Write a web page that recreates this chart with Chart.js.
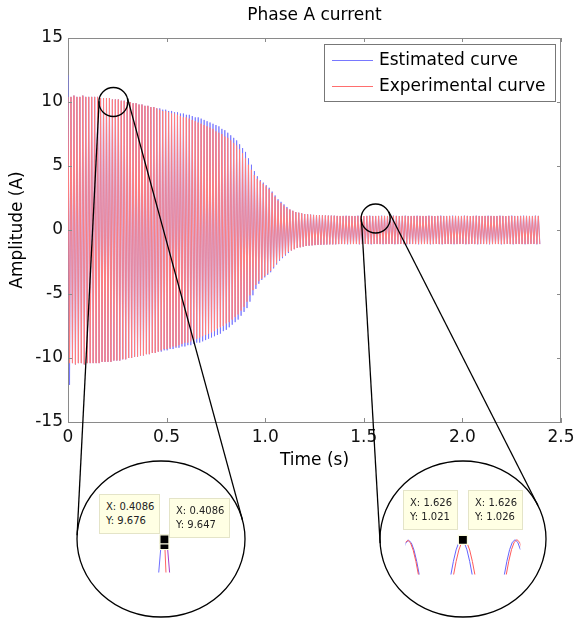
<!DOCTYPE html>
<html>
<head>
<meta charset="utf-8">
<title>Phase A current</title>
<script src="https://cdn.jsdelivr.net/npm/chart.js@4.4.1/dist/chart.umd.min.js"></script>
<style>
  body { margin: 0; background: #fff; }
  #wrap { position: relative; width: 576px; height: 621px; }
  #wrap canvas { position: absolute; }
  .tip { position: absolute; background: #ffffe4; border: 1px solid #e4e4c8; font: 10px "DejaVu Sans", sans-serif; color: #222; line-height: 14px; padding: 5px 5px 5px 6px; white-space: nowrap; }
</style>
</head>
<body>
<div id="wrap">
  <canvas id="mainChart" width="576" height="621" style="left:0;top:0"></canvas>
  <canvas id="zoomLeft" width="120" height="78" style="left:104px;top:502px"></canvas>
  <canvas id="zoomRight" width="130" height="57" style="left:398px;top:525px"></canvas>
  <div class="tip" style="left:99px;top:494px">X: 0.4086<br>Y: 9.676</div>
  <div class="tip" style="left:169px;top:498px">X: 0.4086<br>Y: 9.647</div>
  <div class="tip" style="left:403px;top:490px">X: 1.626<br>Y: 1.021</div>
  <div class="tip" style="left:468px;top:490px">X: 1.626<br>Y: 1.026</div>
</div>
<script>
// one peak value per cycle (positive peak, then the negative half-cycle)
const cycleStep = 0.015;
const estLag = 0.0003;

const expPeaks = [
  10.4, 10.4, 10.5, 10.4, 10.4, 10.5, 10.4, 10.4, 10.4, 10.4,
  10.4, 10.3, 10.3, 10.3, 10.3, 10.2, 10.2, 10.2, 10.1, 10.1,
  10.0, 10.0, 9.9, 9.9, 9.8, 9.8, 9.7, 9.7, 9.6, 9.6,
  9.5, 9.4, 9.3, 9.3, 9.2, 9.1, 9.1, 9.0, 8.9, 8.8,
  8.8, 8.7, 8.6, 8.5, 8.4, 8.3, 8.2, 8.1, 8.0, 7.9,
  7.7, 7.6, 7.5, 7.3, 7.2, 7.0, 6.8, 6.6, 6.3, 6.0,
  5.6, 5.1, 4.7, 4.3, 4.0, 3.8, 3.6, 3.4, 3.2, 2.9,
  2.6, 2.3, 2.1, 1.9, 1.7, 1.6, 1.5, 1.4, 1.35, 1.3,
  1.25, 1.22, 1.2, 1.18, 1.16, 1.15, 1.14, 1.13, 1.12, 1.12,
  1.11, 1.1, 1.1, 1.1, 1.09, 1.1, 1.1, 1.09, 1.1, 1.1,
  1.09, 1.1, 1.1, 1.09, 1.1, 1.1, 1.09, 1.1, 1.1, 1.09,
  1.1, 1.1, 1.09, 1.1, 1.1, 1.09, 1.1, 1.1, 1.09, 1.1,
  1.1, 1.09, 1.1, 1.1, 1.09, 1.1, 1.1, 1.09, 1.1, 1.1,
  1.09, 1.1, 1.1, 1.09, 1.1, 1.1, 1.09, 1.1, 1.1, 1.09,
  1.1, 1.1, 1.09, 1.1, 1.1, 1.09, 1.1, 1.1, 1.09, 1.1,
  1.1, 1.09, 1.1, 1.1, 1.09, 1.1, 1.1, 1.09, 1.1, 1.1
];

const estPeaks = [
  12.1, 10.4, 10.5, 10.4, 10.4, 10.5, 10.4, 10.4, 10.4, 10.4,
  10.4, 10.3, 10.3, 10.3, 10.3, 10.2, 10.2, 10.2, 10.1, 10.1,
  10.0, 10.0, 9.9, 9.9, 9.8, 9.8, 9.7, 9.7, 9.6, 9.6,
  9.5, 9.5, 9.4, 9.4, 9.3, 9.3, 9.2, 9.2, 9.1, 9.1,
  9.0, 9.0, 8.9, 8.8, 8.8, 8.7, 8.6, 8.5, 8.4, 8.3,
  8.2, 8.1, 7.9, 7.8, 7.6, 7.4, 7.2, 7.0, 6.7, 6.4,
  6.1, 5.6, 5.1, 4.6, 4.2, 3.9, 3.7, 3.5, 3.3, 3.0,
  2.7, 2.4, 2.2, 2.0, 1.8, 1.6, 1.5, 1.4, 1.35, 1.3,
  1.25, 1.22, 1.2, 1.18, 1.16, 1.15, 1.14, 1.13, 1.12, 1.12,
  1.12, 1.1, 1.08, 1.1, 1.12, 1.1, 1.08, 1.1, 1.12, 1.1,
  1.08, 1.1, 1.12, 1.1, 1.08, 1.1, 1.12, 1.1, 1.08, 1.1,
  1.12, 1.1, 1.08, 1.1, 1.12, 1.1, 1.08, 1.1, 1.12, 1.1,
  1.08, 1.1, 1.12, 1.1, 1.08, 1.1, 1.12, 1.1, 1.08, 1.1,
  1.12, 1.1, 1.08, 1.1, 1.12, 1.1, 1.08, 1.1, 1.12, 1.1,
  1.08, 1.1, 1.12, 1.1, 1.08, 1.1, 1.12, 1.1, 1.08, 1.1,
  1.12, 1.1, 1.08, 1.1, 1.12, 1.1, 1.08, 1.1, 1.12, 1.1
];

const xTicks = [0, 0.5, 1, 1.5, 2, 2.5];
const yTicks = [-15, -10, -5, 0, 5, 10, 15];
const legendLabels = ['Estimated curve', 'Experimental curve'];

// magnified spots (data units)
const lensTimes = [0.23, 1.56];
const lensAmps = [10.0, 0.9];

// left zoom: points around t = 0.4086
const leftBlue = [{x: 0.40853, y: 9.63}, {x: 0.40849, y: 9.50}];
const leftRed = [{x: 0.40861, y: 9.63}, {x: 0.40863, y: 9.50}];
const leftMix = [{x: 0.40866, y: 9.63}, {x: 0.40870, y: 9.50}];
const leftTips = [{x: 0.4086, y: 9.676}, {x: 0.4086, y: 9.647}];

// right zoom: three peaks around t = 1.626, 1 ms apart
const peakOffsets = [-0.005, -0.004, -0.003, -0.002, -0.001, 0, 0.001, 0.002, 0.003, 0.004, 0.005];
const rightBluePeaks = [1.6060, 1.6255, 1.6452];
const rightRedPeaks = [1.6057, 1.6265, 1.6459];
const rightBlueShapes = [
  [0, 0.316, 0.600, 0.825, 0.970, 1.020, 0.970, 0.825, 0.600, 0.316, 0],
  [0, 0.317, 0.603, 0.830, 0.976, 1.026, 0.976, 0.830, 0.603, 0.317, 0],
  [0, 0.318, 0.605, 0.833, 0.980, 1.030, 0.980, 0.833, 0.605, 0.318, 0]
];
const rightRedShapes = [
  [0, 0.315, 0.599, 0.824, 0.969, 1.019, 0.969, 0.824, 0.599, 0.315, 0],
  [0, 0.316, 0.600, 0.826, 0.971, 1.021, 0.971, 0.826, 0.600, 0.316, 0],
  [0, 0.319, 0.606, 0.834, 0.981, 1.032, 0.981, 0.834, 0.606, 0.319, 0]
];
const rightTips = [{x: 1.626, y: 1.026}];

const fontFamily = 'DejaVu Sans';
const axisColor = '#8a8a8a';

function zigzag(peaks, offset) {
  const pts = [];
  peaks.forEach((a, k) => {
    const t = k * cycleStep + offset;
    pts.push({x: t, y: a}, {x: t + cycleStep / 2, y: -a});
  });
  return pts;
}

function peakCurves(peaks, shapes) {
  const pts = [];
  peaks.forEach((p, i) => {
    peakOffsets.forEach((o, j) => pts.push({x: p + o, y: shapes[i][j]}));
    pts.push({x: p + 0.006, y: null});
  });
  return pts;
}

// external tangent from a small circle to an ellipse
function tangents(sx, sy, sr, e) {
  const out = [];
  let prev = null;
  for (let i = 0; i <= 3600; i++) {
    const th = i / 3600 * Math.PI * 2;
    const ex = e.cx + e.rx * Math.cos(th), ey = e.cy + e.ry * Math.sin(th);
    let dx = -e.rx * Math.sin(th), dy = e.ry * Math.cos(th);
    const len = Math.hypot(dx, dy); dx /= len; dy /= len;
    const dS = dx * (sy - ey) - dy * (sx - ex);
    const dC = dx * (e.cy - ey) - dy * (e.cx - ex);
    const f = dS * Math.sign(dC) - sr;
    if (prev !== null && Math.sign(f) !== Math.sign(prev)) {
      const t = dx * (sx - ex) + dy * (sy - ey);
      out.push([ex, ey, ex + dx * t, ey + dy * t]);
    }
    prev = f;
  }
  return out;
}

const lenses = [
  {cx: 161, cy: 539, rx: 84, ry: 78},
  {cx: 463, cy: 539, rx: 83, ry: 78}
];

const decor = {
  id: 'decor',
  afterDraw(chart) {
    const {ctx, chartArea: a, scales: {x, y}} = chart;
    ctx.save();
    // box and inward ticks
    ctx.strokeStyle = axisColor;
    ctx.lineWidth = 1;
    ctx.beginPath();
    ctx.moveTo(a.left, a.top + 0.5); ctx.lineTo(a.right, a.top + 0.5);
    ctx.moveTo(a.right - 0.5, a.top); ctx.lineTo(a.right - 0.5, a.bottom);
    xTicks.forEach(v => {
      const px = Math.round(x.getPixelForValue(v)) + 0.5;
      ctx.moveTo(px, a.bottom); ctx.lineTo(px, a.bottom - 4);
      ctx.moveTo(px, a.top); ctx.lineTo(px, a.top + 4);
    });
    yTicks.forEach(v => {
      const py = Math.round(y.getPixelForValue(v)) + 0.5;
      ctx.moveTo(a.left, py); ctx.lineTo(a.left + 4, py);
      ctx.moveTo(a.right, py); ctx.lineTo(a.right - 4, py);
    });
    ctx.stroke();

    // legend
    const lx = a.right - 237, ly = a.top + 6;
    ctx.fillStyle = '#fff';
    ctx.fillRect(lx, ly, 231, 57);
    ctx.strokeStyle = '#777';
    ctx.strokeRect(lx + 0.5, ly + 0.5, 231, 57);
    const legendColors = ['rgb(120,120,255)', 'rgb(255,110,110)'];
    ctx.font = '17px "' + fontFamily + '"';
    ctx.textBaseline = 'middle';
    legendLabels.forEach((label, i) => {
      const rowY = ly + 16 + i * 26;
      ctx.strokeStyle = legendColors[i];
      ctx.beginPath();
      ctx.moveTo(lx + 8, rowY + 0.5); ctx.lineTo(lx + 49, rowY + 0.5);
      ctx.stroke();
      ctx.fillStyle = '#000';
      ctx.fillText(label, lx + 55, rowY + 1);
    });

    // magnifier circles and connecting lines
    ctx.strokeStyle = '#000';
    ctx.lineWidth = 1.3;
    lensTimes.forEach((t, i) => {
      const sx = x.getPixelForValue(t), sy = y.getPixelForValue(lensAmps[i]);
      const sr = 14.5;
      const e = lenses[i];
      ctx.beginPath();
      ctx.arc(sx, sy, sr, 0, Math.PI * 2);
      ctx.stroke();
      ctx.beginPath();
      ctx.ellipse(e.cx, e.cy, e.rx, e.ry, 0, 0, Math.PI * 2);
      ctx.stroke();
      tangents(sx, sy, sr, e).forEach(seg => {
        ctx.beginPath();
        ctx.moveTo(seg[2], seg[3]); ctx.lineTo(seg[0], seg[1]);
        ctx.stroke();
      });
    });
    ctx.restore();
  }
};

const tickFont = {family: fontFamily, size: 17};

new Chart(document.getElementById('mainChart'), {
  type: 'line',
  data: {
    datasets: [
      {label: legendLabels[1], data: zigzag(expPeaks, 0), borderColor: 'rgb(255,125,125)', borderWidth: 1, pointRadius: 0},
      {label: legendLabels[0], data: zigzag(estPeaks, estLag), borderColor: 'rgb(110,110,255)', borderWidth: 0.8, pointRadius: 0}
    ]
  },
  options: {
    responsive: false,
    animation: false,
    events: [],
    layout: {padding: {left: 0, right: 15, top: 0, bottom: 139}},
    plugins: {
      legend: {display: false},
      tooltip: {enabled: false},
      title: {
        display: true, text: 'Phase A current', fullSize: false, color: '#000',
        font: {family: fontFamily, size: 17, weight: 'normal'},
        padding: {top: 5, bottom: 12.6}
      }
    },
    scales: {
      x: {
        type: 'linear', min: 0, max: 2.5,
        afterBuildTicks: s => { s.ticks = xTicks.map(v => ({value: v})); },
        ticks: {color: '#111', font: tickFont, padding: 5, maxRotation: 0, autoSkip: false},
        grid: {drawOnChartArea: false, drawTicks: false},
        border: {color: axisColor},
        title: {display: true, text: 'Time (s)', color: '#000', font: tickFont, padding: {top: 0, bottom: 11}},
        afterFit: s => { s.height = 60; s.paddingRight = 0; s.paddingLeft = 0; }
      },
      y: {
        type: 'linear', min: -15, max: 15,
        afterBuildTicks: s => { s.ticks = yTicks.map(v => ({value: v})); },
        ticks: {color: '#111', font: tickFont, padding: 5},
        grid: {drawOnChartArea: false, drawTicks: false},
        border: {color: axisColor},
        title: {display: true, text: 'Amplitude (A)', color: '#000', font: tickFont, padding: {top: 7, bottom: 0}},
        afterFit: s => { s.width = 68; s.paddingTop = 0; s.paddingBottom = 0; }
      }
    }
  },
  plugins: [decor]
});

function insetChart(id, xMin, xMax, yMin, yMax, datasets) {
  return new Chart(document.getElementById(id), {
    type: 'line',
    data: {datasets},
    options: {
      responsive: false, animation: false, events: [],
      layout: {padding: 0},
      plugins: {legend: {display: false}, tooltip: {enabled: false}, title: {display: false}},
      scales: {
        x: {type: 'linear', display: false, min: xMin, max: xMax},
        y: {type: 'linear', display: false, min: yMin, max: yMax}
      }
    }
  });
}

const tipMarker = {showLine: false, pointStyle: 'rect', pointRadius: 6.4, backgroundColor: '#000', borderColor: '#fbfbe0', borderWidth: 1.2};

insetChart('zoomLeft', 0.407592, 0.409592, 9.505, 9.830, [
  Object.assign({data: [leftTips[0]]}, tipMarker),
  Object.assign({data: [leftTips[1]]}, tipMarker),
  {data: leftBlue, borderColor: 'rgb(110,110,255)', borderWidth: 1, pointRadius: 0},
  {data: leftRed, borderColor: 'rgb(255,100,100)', borderWidth: 1, pointRadius: 0},
  {data: leftMix, borderColor: 'rgb(170,60,200)', borderWidth: 1, pointRadius: 0}
]);

insetChart('zoomRight', 1.6049, 1.64718, 0.345, 1.171, [
  Object.assign({data: rightTips}, tipMarker),
  {data: peakCurves(rightRedPeaks, rightRedShapes), borderColor: 'rgb(255,90,90)', borderWidth: 1, pointRadius: 0, spanGaps: false},
  {data: peakCurves(rightBluePeaks, rightBlueShapes), borderColor: 'rgb(100,100,255)', borderWidth: 1, pointRadius: 0, spanGaps: false}
]);
</script>
</body>
</html>
